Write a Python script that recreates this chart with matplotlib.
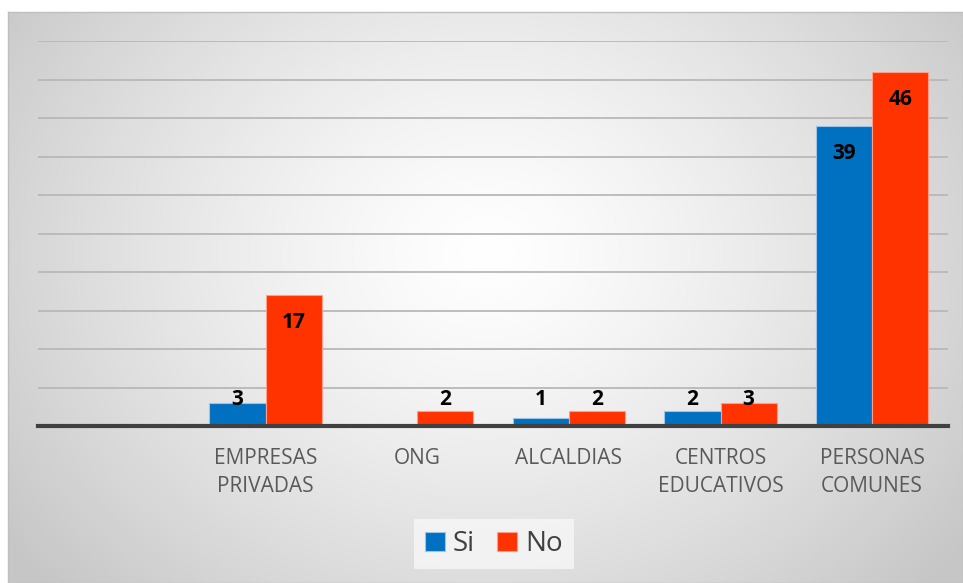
import numpy as np
import matplotlib
matplotlib.use("Agg")
import matplotlib.pyplot as plt

categories = ["", "EMPRESAS\nPRIVADAS", "ONG", "ALCALDIAS", "CENTROS\nEDUCATIVOS", "PERSONAS\nCOMUNES"]
si_values = [0, 3, 0, 1, 2, 39]
no_values = [0, 17, 2, 2, 3, 46]
si_labels = ["", "3", "", "1", "2", "39"]
no_labels = ["", "17", "2", "2", "3", "46"]

W, H = 963, 583
fig = plt.figure(figsize=(W / 100, H / 100), dpi=100)
fig.patch.set_facecolor("white")

# chart area with radial gradient
bg = fig.add_axes([8 / W, 0, (W - 8) / W, (H - 12) / H])
ny, nx = 300, 500
yy, xx = np.mgrid[0:ny, 0:nx]
cx, cy = nx * 0.50, ny * 0.42
r = np.sqrt(((xx - cx) / (nx * 0.62)) ** 2 + ((yy - cy) / (ny * 0.85)) ** 2)
r = np.clip(r, 0, 1)
shade = 1.0 - 0.22 * r ** 1.3
img = np.dstack([shade, shade, shade])
bg.imshow(img, aspect="auto", extent=[0, 1, 0, 1], origin="upper")
bg.set_xlim(0, 1)
bg.set_ylim(0, 1)
bg.set_xticks([])
bg.set_yticks([])
for s in bg.spines.values():
    s.set_color("#bfbfbf")
    s.set_linewidth(1.0)

ax = fig.add_axes([38 / W, (H - 426) / H, (948 - 38) / W, (426 - 41) / H])
ax.patch.set_alpha(0)
x = np.arange(len(categories))
w = 0.37
b1 = ax.bar(x - w / 2, si_values, w, color="#0070C0", edgecolor="#9DC3E6", linewidth=0.8, label="Si", zorder=3)
b2 = ax.bar(x + w / 2, no_values, w, color="#FF3300", edgecolor="#FF9F8A", linewidth=0.8, label="No", zorder=3)

ax.set_xlim(-0.5, len(categories) - 0.5)
ax.set_ylim(0, 50)
ax.set_yticks(np.arange(0, 51, 5))
ax.yaxis.grid(True, color="#b8b8b8", linewidth=1.3, zorder=0)
ax.tick_params(axis="y", left=False, labelleft=False)
ax.set_xticks(x)
ax.set_xticklabels(categories, fontsize=15, color="#595959", family="Open Sans", linespacing=1.45)
ax.tick_params(axis="x", length=0, pad=16)
for side in ["top", "right", "left"]:
    ax.spines[side].set_visible(False)
ax.spines["bottom"].set_color("#404040")
ax.spines["bottom"].set_linewidth(3)
ax.spines["bottom"].set_zorder(4)

for bars, labels in [(b1, si_labels), (b2, no_labels)]:
    for rect, lab in zip(bars, labels):
        if lab == "":
            continue
        h = rect.get_height()
        ypos = max(h - 3.6, 3.4)
        ax.text(rect.get_x() + rect.get_width() / 2, ypos, lab, ha="center", va="center",
                fontsize=15, fontweight="bold", color="black", family="Open Sans", zorder=5)

leg = fig.legend(loc="center", bbox_to_anchor=(494 / W, 1 - 544 / H), ncol=2, frameon=True,
                 handlelength=0.7, handleheight=0.7, handletextpad=0.3,
                 columnspacing=0.8, borderpad=0.2, prop={"family": "Open Sans", "size": 20})
leg.get_frame().set_facecolor("#f7f7f7")
leg.get_frame().set_edgecolor("none")
leg.get_frame().set_boxstyle("square", pad=0.2)
for t in leg.get_texts():
    t.set_color("#404040")

fig.savefig("out.png", dpi=100)
